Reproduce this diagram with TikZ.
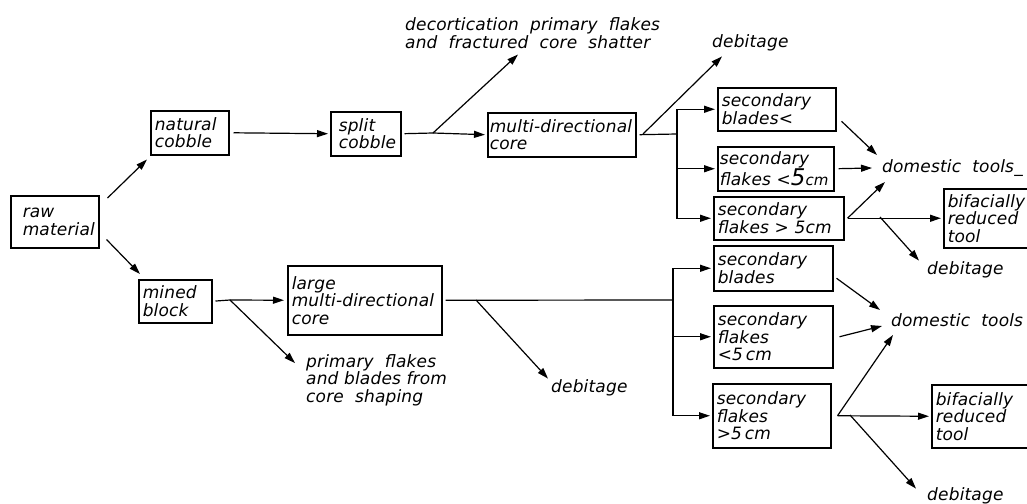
\documentclass[tikz,border=0pt]{standalone}
\usepackage{fontspec}
\setmainfont{DejaVu Sans}[LetterSpace=1]
\usetikzlibrary{arrows.meta,positioning,calc}

\tikzset{
  box/.style={draw, line width=1.5pt, anchor=north west, align=left, inner xsep=4pt, inner ysep=2pt},
  lbl/.style={anchor=west, align=left, inner sep=1pt},
  arr/.style={line width=1.2pt, -{Triangle[length=11pt,width=7pt]}},
  ln/.style={line width=1.2pt},
}

\begin{document}
\begin{tikzpicture}[x=1pt,y=-1pt,font=\fontsize{17}{17.5}\selectfont\itshape]
  \useasboundingbox (0,0) rectangle (1027,503);
  % upper line: natural cobble
  \node[box,text width=80pt,minimum height=52pt] (raw) at (10,195) {\hspace*{8pt}raw\\\hspace*{8pt}material};
  \node[box,text width=70pt,minimum height=44pt] (natural) at (150,110) {natural\\cobble};
  \node[box,text width=62pt,minimum height=44pt] (split) at (330,111) {\hspace*{4pt}split\\\hspace*{4pt}cobble};
  \node[box,text width=144pt,inner xsep=2pt,minimum height=44pt] (multi) at (487,112) {multi-directional\\core};
  \node[lbl] (decort) at (404,33) {decortication\ \ primary\ \ flakes\\and\ \ fractured\ \ core\ \ shatter};
  \node[lbl] (deb1) at (711,43) {debitage};
  \node[box,text width=110pt,minimum height=43pt] (sb1) at (717,87) {secondary\\blades<};
  \node[box,text width=112pt,inner xsep=2pt,minimum height=44pt] (sf1) at (717,146) {secondary\\\mbox{flakes <{\fontsize{23}{17.5}\selectfont 5}{\fontsize{15}{17.5}\selectfont cm}}};
  \node[box,text width=122pt,minimum height=43pt] (sf2) at (713,196) {secondary\\flakes > 5cm};
  \node[lbl] (dom1) at (881,168) {domestic\ \ tools\_};
  \node[box,text width=92pt,minimum height=59pt] (bif1) at (943,188) {bifacially\\reduced\\tool};
  \node[lbl] (deb2) at (926,270) {debitage};
  % lower line: mined block
  \node[box,text width=65pt,minimum height=43pt] (mined) at (138,279) {mined\\block};
  \node[box,text width=146pt,minimum height=69pt] (large) at (287,265) {large\\multi-directional\\core};
  \node[lbl] (prim) at (305,380) {primary\ \ flakes\\and\ blades\ from\\core\ \ shaping};
  \node[lbl] (deb3) at (550,388) {debitage};
  \node[box,text width=111pt,minimum height=45pt] (sb2) at (713,245) {secondary\\blades};
  \node[box,text width=111pt,minimum height=62pt] (sf3) at (713,305) {secondary\\flakes\\<5\,cm};
  \node[box,text width=110pt,minimum height=64pt] (sf4) at (712,383) {secondary\\flakes\\>5\,cm};
  \node[lbl] (dom2) at (890,320) {domestic\ \ tools};
  \node[box,text width=102pt,minimum height=63pt] (bif2) at (931,384) {bifacially\\reduced\\tool};
  \node[lbl] (deb4) at (926,496) {debitage};

  \coordinate (s1) at (433,133);
  \coordinate (m1) at (643,134);
  \coordinate (v1) at (677,134);
  \coordinate (f2) at (880,217);
  \coordinate (k1) at (230,300);
  \coordinate (l1) at (476,300);
  \coordinate (v2) at (673,300);
  \coordinate (f4) at (850,415);

  \draw[arr] ([xshift=8pt,yshift=-3pt]raw.north east) -- ([xshift=-3pt,yshift=-4pt]natural.south west);
  \draw[arr] ([xshift=7pt,yshift=9pt]raw.south east) -- ([xshift=2pt,yshift=5pt]mined.north west);
  \draw[arr,shorten <=4pt,shorten >=2pt] (natural.east) -- (split.west);
  \draw[ln,shorten <=3pt] (split.east) -- (s1);
  \draw[arr,shorten >=2pt] (s1) -- (multi.west);
  \draw[arr] (s1) -- ([xshift=114pt,yshift=-5pt]decort.south west);
  \draw[ln,shorten <=3pt] (multi.east) -- (v1);
  \draw[arr] (m1) -- ([xshift=11pt,yshift=-4pt]deb1.south west);
  \draw[arr,shorten >=2pt] (v1) |- (sb1.west);
  \draw[arr,shorten >=2pt] (v1) |- (sf1.west);
  \draw[arr,shorten >=2pt] (v1) |- (sf2.west);
  \draw[arr] ([xshift=5pt,yshift=-12pt]sb1.east) -- ([xshift=-4pt,yshift=13pt]dom1.west);
  \draw[arr,shorten <=4pt] (sf1.east) -- ([xshift=-9pt]dom1.west);
  \draw[arr] ([xshift=3pt]sf2.east) -- ([xshift=4pt,yshift=-14pt]dom1.west);
  \draw[arr,shorten <=3pt,shorten >=2pt] (sf2.east) -- (bif1.west);
  \draw[arr] (f2) -- ([xshift=-7pt]deb2.north west);

  \draw[ln,shorten <=3pt] (mined.east) -- (k1);
  \draw[arr,shorten >=3pt] (k1) -- (large.west);
  \draw[arr] (k1) -- ([xshift=-10pt,yshift=-10pt]prim.north west);
  \draw[ln,shorten <=3pt] (large.east) -- (v2);
  \draw[arr] (l1) -- ([xshift=-2pt]deb3.north west);
  \draw[arr,shorten >=2pt] (v2) |- (sb2.west);
  \draw[arr,shorten >=2pt] (v2) |- (sf3.west);
  \draw[arr,shorten >=2pt] (v2) |- (sf4.west);
  \draw[arr] ([xshift=3pt,yshift=-10pt]sb2.east) -- ([xshift=-10pt,yshift=10pt]dom2.west);
  \draw[arr] ([xshift=6pt]sf3.east) -- ([xshift=-8pt,yshift=-6pt]dom2.west);
  \draw[arr] ([xshift=6pt]sf4.east) -- ([xshift=3pt,yshift=-15pt]dom2.west);
  \draw[arr,shorten <=6pt,shorten >=2pt] (sf4.east) -- (bif2.west);
  \draw[arr] (f4) -- ([xshift=-10pt,yshift=-2pt]deb4.north west);
\end{tikzpicture}
\end{document}
